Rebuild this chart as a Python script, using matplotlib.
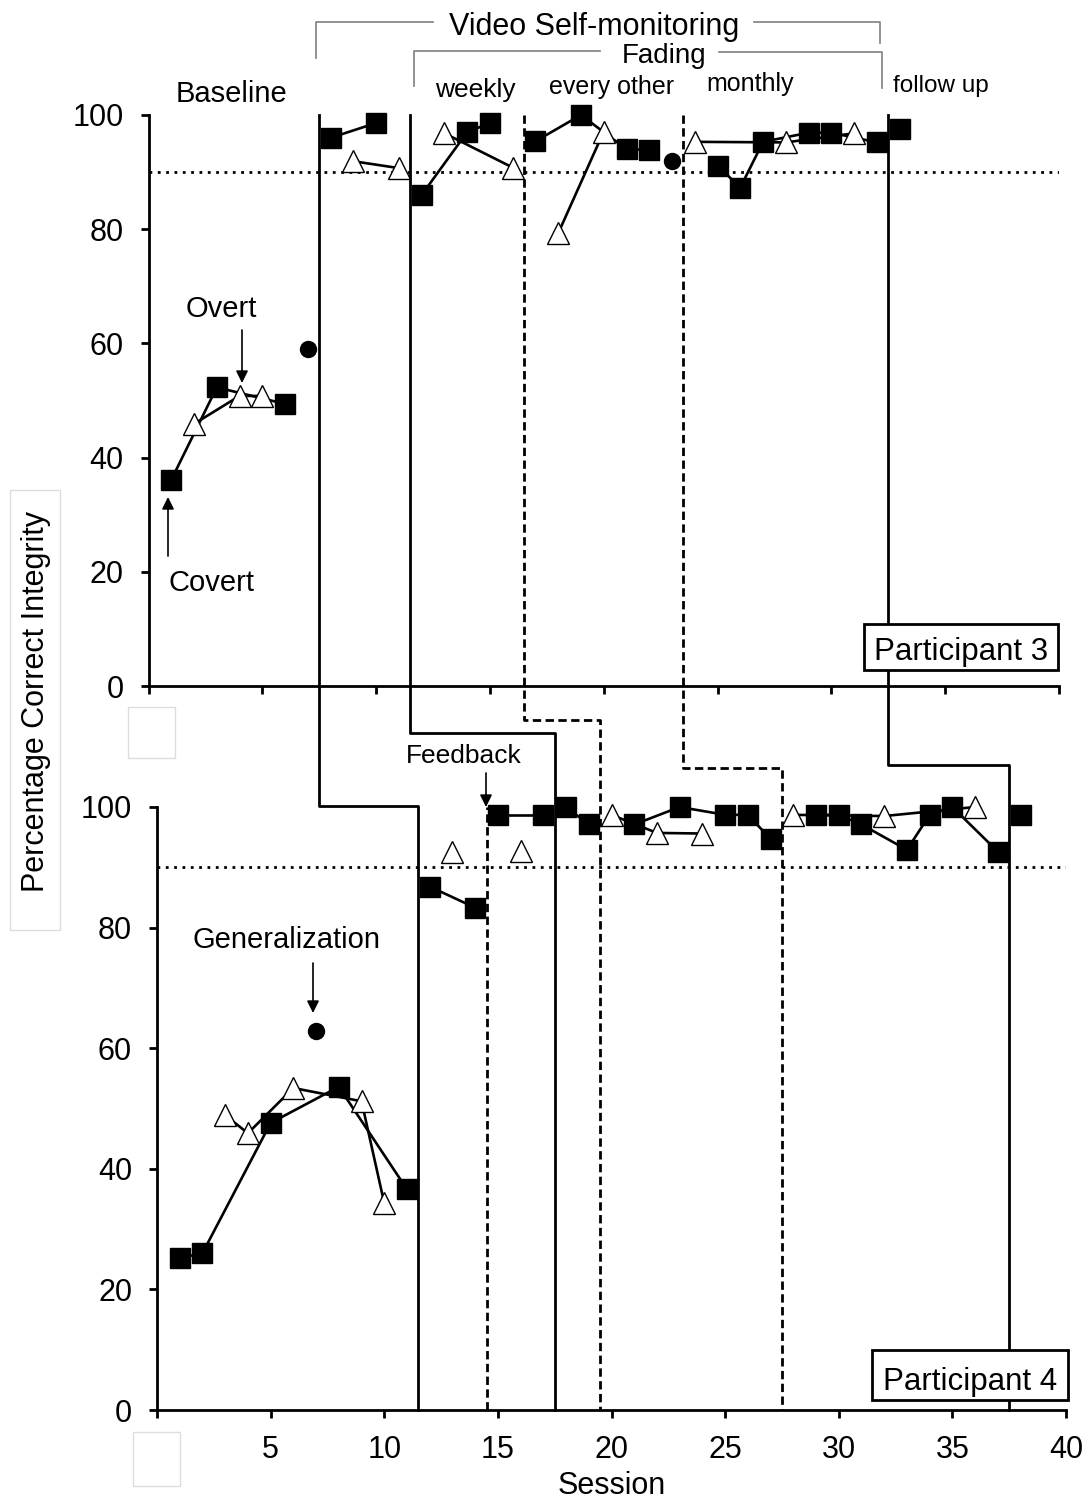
import matplotlib
matplotlib.use("Agg")
import matplotlib.pyplot as plt
from matplotlib.lines import Line2D
from matplotlib.patches import Rectangle, FancyArrowPatch

plt.rcParams['font.family'] = ['Liberation Sans', 'DejaVu Sans']

# === Data: Participant 3 (top panel), one (x, y) pair per connected run ===
p3_squares = [
    ([1, 3, 6], [36.1, 52.3, 49.4]),
    ([8, 10], [96.0, 98.6]),
    ([12, 14, 15], [86.0, 97.0, 98.6]),
    ([17, 19, 21, 22], [95.4, 100, 94.0, 93.9]),
    ([25, 26, 27, 29, 30, 32], [91.1, 87.3, 95.3, 96.9, 96.9, 95.2]),
    ([33], [97.6]),
]
p3_triangles = [
    ([2, 4, 5], [45.9, 50.8, 50.8]),
    ([9, 11], [91.9, 90.7]),
    ([13, 16], [96.8, 90.8]),
    ([18, 20], [79.3, 97.1]),
    ([24, 28, 31], [95.3, 95.2, 96.8]),
]
p3_circles = [([7], [59.0]), ([23], [91.9])]

# === Data: Participant 4 (bottom panel) ===
p4_squares = [
    ([1, 2, 5, 8, 11], [25.2, 26.0, 47.6, 53.6, 36.6]),
    ([12, 14], [86.8, 83.3]),
    ([15, 17], [98.7, 98.7]),
    ([18, 19], [100, 97.1]),
    ([21, 23, 25, 26, 27], [97.1, 100, 98.7, 98.7, 94.7]),
    ([29, 30, 31, 33, 34, 35, 37], [98.7, 98.7, 97.1, 92.9, 98.7, 100, 92.6]),
    ([38], [98.7]),
]
p4_triangles = [
    ([3, 4, 6, 9, 10], [48.9, 45.9, 53.4, 51.2, 34.3]),
    ([13], [92.6]),
    ([16], [92.7]),
    ([20, 22, 24], [98.7, 95.7, 95.6]),
    ([28, 32, 36], [98.7, 98.5, 100]),
]
p4_circles = [([7], [62.9])]

# phase change lines (session values), top panel -> bottom panel
top_phase = [7.5, 11.5, 16.5, 23.5, 32.5]
bottom_phase = [11.5, 17.5, 19.5, 27.5, 37.5]
phase_dashed = [False, False, True, True, False]
feedback_phase = 14.5
criterion = 90

# === Layout (pixels of the 1088x1501 output) ===
W, H = 1088, 1501
step_levels = [100.2, 112.3, 114.4, 106.5, 107.0]   # bottom-axis units


def fx(px):
    return px / W


def fy(py):
    return 1 - py / H


fig = plt.figure(figsize=(W / 100, H / 100), dpi=100)
ax1 = fig.add_axes([fx(148.5), fy(686), (1059 - 148.5) / W, (686 - 115) / H])
ax2 = fig.add_axes([fx(157), fy(1410), (1066 - 157) / W, (1410 - 807) / H])

for ax in (ax1, ax2):
    ax.set_xlim(0, 40)
    ax.set_ylim(0, 100)
    ax.spines['top'].set_visible(False)
    ax.spines['right'].set_visible(False)
    ax.spines['left'].set_linewidth(2)
    ax.spines['bottom'].set_linewidth(2)
    ax.set_xticks(range(0, 41, 5))
    ax.set_yticks(range(0, 101, 20))
    ax.tick_params(direction='out', length=6, width=2, labelsize=22, pad=12)
    ax.axhline(criterion, ls=(0, (1, 2)), color='black', lw=2, zorder=1)
    ax.set_facecolor('none')

ax1.tick_params(axis='x', labelbottom=False)
ax2.set_xticklabels([''] + [str(v) for v in range(5, 41, 5)])


def draw(ax, squares, triangles, circles):
    for xs, ys in squares + triangles:
        ax.plot(xs, ys, color='black', lw=1.9, zorder=3, clip_on=False)
    for xs, ys in triangles:
        ax.plot(xs, ys, ls='none', marker='^', ms=16, mfc='white', mec='black',
                mew=1.0, zorder=4, clip_on=False)
    for xs, ys in squares:
        ax.plot(xs, ys, ls='none', marker='s', ms=14, mfc='black', mec='black',
                zorder=5, clip_on=False)
    for xs, ys in circles:
        ax.plot(xs, ys, ls='none', marker='o', ms=11.5, mfc='black', mec='black',
                zorder=5, clip_on=False)


draw(ax1, p3_squares, p3_triangles, p3_circles)
draw(ax2, p4_squares, p4_triangles, p4_circles)

# feedback line in the bottom panel
ax2.plot([feedback_phase, feedback_phase], [0, 100], color='black', lw=2,
         ls=(0, (3, 1.6)), zorder=2, clip_on=False)

# staircase phase lines across both panels
inv = fig.transFigure.inverted()


def to_fig(ax, x, y):
    return inv.transform(ax.transData.transform((x, y)))


for xt, xb, dashed, lvl in zip(top_phase, bottom_phase, phase_dashed, step_levels):
    a = to_fig(ax1, xt, 100)
    b = to_fig(ax2, xb, lvl)
    c = to_fig(ax2, xb, 0)
    ls = (0, (3, 1.6)) if dashed else '-'
    fig.add_artist(Line2D([a[0], a[0], b[0], c[0]], [a[1], b[1], b[1], c[1]],
                          transform=fig.transFigure, color='black', lw=2, ls=ls,
                          zorder=2))

# === Phase headings and brackets ===
gray = '#7f7f7f'


def fline(pts, **kw):
    fig.add_artist(Line2D([fx(p[0]) for p in pts], [fy(p[1]) for p in pts],
                          transform=fig.transFigure, **kw))


fline([(316, 58), (316, 22), (433, 22)], color=gray, lw=1.2)
fline([(754, 22), (880, 22), (880, 43)], color=gray, lw=1.2)
fline([(414, 86), (414, 51), (600, 51)], color=gray, lw=1.2)
fline([(719, 52), (882, 52), (882, 88)], color=gray, lw=1.2)

fig.text(fx(594), fy(35), 'Video Self-monitoring', fontsize=22, ha='center', va='baseline')
fig.text(fx(664), fy(63), 'Fading', fontsize=20, ha='center', va='baseline')
fig.text(fx(231), fy(102), 'Baseline', fontsize=21, ha='center', va='baseline')
fig.text(fx(475), fy(97), 'weekly', fontsize=19, ha='center', va='baseline')
fig.text(fx(612), fy(94), 'every other', fontsize=18, ha='center', va='baseline')
fig.text(fx(750), fy(91), 'monthly', fontsize=18, ha='center', va='baseline')
fig.text(fx(941), fy(92), 'follow up', fontsize=17.5, ha='center', va='baseline')

# === Annotations ===
fig.text(fx(221), fy(317), 'Overt', fontsize=21, ha='center', va='baseline')
fig.text(fx(212), fy(591), 'Covert', fontsize=21, ha='center', va='baseline')
fig.text(fx(464), fy(763), 'Feedback', fontsize=19, ha='center', va='baseline')
fig.text(fx(286), fy(948), 'Generalization', fontsize=21, ha='center', va='baseline')


def farrow(x, y0, y1):
    fig.add_artist(FancyArrowPatch((fx(x), fy(y0)), (fx(x), fy(y1)),
                                   transform=fig.transFigure, arrowstyle='-|>',
                                   mutation_scale=18, color='black', lw=1.2,
                                   shrinkA=0, shrinkB=0, zorder=6))


farrow(242, 330, 383)
farrow(168, 556, 497)
farrow(486, 773, 807)
farrow(313, 963, 1013)

# participant boxes
for (x0, y0, x1, y1), label in [((864, 624, 1058, 670), 'Participant 3'),
                                ((872, 1350, 1068, 1400), 'Participant 4')]:
    fig.add_artist(Rectangle((fx(x0), fy(y1)), fx(x1) - fx(x0), fy(y0) - fy(y1),
                             transform=fig.transFigure, fc='white', ec='black',
                             lw=2, zorder=10))
    fig.text(fx((x0 + x1) / 2), fy(y1 - 10), label, fontsize=22.5, ha='center',
             va='baseline', zorder=11)

# faint boxes left over in the original
for x0, y0, x1, y1 in [(10, 490, 60, 930), (128, 707, 175, 758), (133, 1432, 180, 1486)]:
    fig.add_artist(Rectangle((fx(x0), fy(y1)), fx(x1) - fx(x0), fy(y0) - fy(y1),
                             transform=fig.transFigure, fc='none', ec='#dddddd',
                             lw=1, zorder=1))

fig.text(fx(36), fy(702), 'Percentage Correct Integrity', fontsize=22,
         rotation=90, ha='center', va='center')
fig.text(fx(612), fy(1494), 'Session', fontsize=22, ha='center', va='baseline')

fig.savefig('out.png', dpi=100)
